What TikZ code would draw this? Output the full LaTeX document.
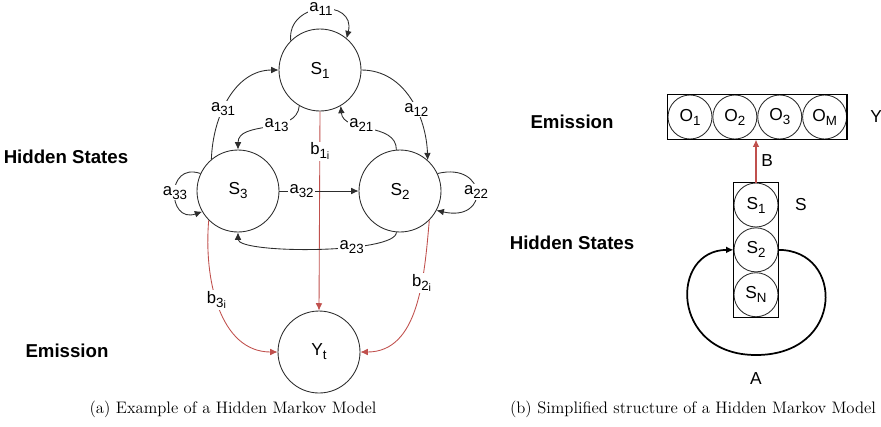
\documentclass[tikz,border=0pt]{standalone}
\usepackage{fontspec}
\setsansfont{Liberation Sans}
\usetikzlibrary{
    positioning,    % relative placement of the stacked cells
    arrows.meta     % Latex arrow tips
}
\definecolor{emitred}{RGB}{192, 80, 77}
\definecolor{linegray}{RGB}{45, 45, 45}
% letter with a lowered index, set in the sans font
\newcommand{\idx}[2]{#1\raisebox{-3pt}{\fontsize{10}{11}\selectfont #2}}
% index with a smaller second level (b_{1i})
\newcommand{\iidx}[3]{#1\raisebox{-3pt}{\fontsize{10}{11}\selectfont #2\raisebox{-0.5pt}{\fontsize{8}{9}\selectfont #3}}}

\begin{document}
\begin{tikzpicture}[
    x=0.75pt, y=0.75pt, % one unit per pixel
    node distance=0pt,
    >={Latex[length=5.5pt, width=5pt]},
    % Styles
    state/.style={ % big state circles of the full model
        circle,
        draw=linegray,
        line width=0.65pt,
        minimum size=61.5pt,
        inner sep=0pt,
        font=\sffamily\fontsize{13}{14}\selectfont
    },
    cell/.style={ % small circles stacked inside the boxes
        circle,
        draw=linegray,
        line width=0.65pt,
        minimum size=33pt,
        inner sep=0pt,
        font=\sffamily\fontsize{13}{14}\selectfont
    },
    trans_arrow/.style={->, line width=0.65pt, draw=linegray},
    emit_arrow/.style={->, line width=0.65pt, draw=emitred},
    prob_label/.style={ % edge labels cut the line
        fill=white,
        inner sep=1pt,
        font=\sffamily\fontsize{12.5}{14}\selectfont
    },
    side_text/.style={font=\sffamily\fontsize{13}{14}\selectfont},
    section_text/.style={font=\sffamily\bfseries\fontsize{14}{16}\selectfont},
    caption_text/.style={font=\fontsize{12.5}{15}\selectfont}
]
\useasboundingbox (0,0) rectangle (881,-426);

% --- (a) full model ---
\node[state] (S1) at (320,-70) {\idx{S}{1}};
\node[state] (S3) at (238,-191) {\idx{S}{3}};
\node[state] (S2) at (400,-191) {\idx{S}{2}};
\node[state] (Yt) at (319,-352) {\idx{Y}{t}};

\node[section_text] (hidden_a) at (66,-157) {Hidden States};
\node[section_text] (emission_a) at (67,-351) {Emission};

% emissions
\draw[emit_arrow] (S1.south) -- node[prob_label, pos=0.2] {\iidx{b}{1}{i}} (Yt.north);
\draw[emit_arrow] (S3.225) to[out=265, in=180] node[prob_label, pos=0.45] {\iidx{b}{3}{i}} (Yt.west);
\draw[emit_arrow] (S2.-45) to[out=-95, in=0] node[prob_label, pos=0.35] {\iidx{b}{2}{i}} (Yt.east);

% self loops
\draw[trans_arrow] (S1.135) .. controls +(-4,40) and +(10,40) .. node[prob_label] {\idx{a}{11}} (S1.50);
\draw[trans_arrow] (S2.25) .. controls +(50,12) and +(54,-12) .. node[prob_label] {\idx{a}{22}} (S2.-28);
\draw[trans_arrow] (S3.155) .. controls +(-35,12) and +(-35,-12) .. node[prob_label] {\idx{a}{33}} (S3.210);

% transitions between states
\draw[trans_arrow] (S3.130) to[out=88, in=180] node[prob_label, pos=0.4] {\idx{a}{31}} (S1.west);
\draw[trans_arrow] (S1.east) to[out=0, in=92] node[prob_label, pos=0.6] {\idx{a}{12}} (S2.48);
\draw[trans_arrow] (S1.240) to[out=265, in=90] node[prob_label, pos=0.4] {\idx{a}{13}} (S3.north);
\draw[trans_arrow] (S2.95) to[out=90, in=275] node[prob_label, pos=0.6] {\idx{a}{21}} (S1.-60);
\draw[trans_arrow] (S3.east) -- node[prob_label, pos=0.28] {\idx{a}{32}} (S2.west);
\draw[trans_arrow] (S2.265) to[out=-90, in=-90, looseness=0.35] node[prob_label, pos=0.35] {\idx{a}{23}} (S3.south);

\node[caption_text] (caption_a) at (233,-409) {(a) Example of a Hidden Markov Model};

% --- (b) simplified structure ---
\node[cell] (O1) at (690,-117) {\idx{O}{1}};
\node[cell, right=of O1] (O2) {\idx{O}{2}};
\node[cell, right=of O2] (O3) {\idx{O}{3}};
\node[cell, right=of O3] (OM) {\idx{O}{M}};
\draw[line width=1pt] (O1.west |- O1.north) rectangle (OM.east |- OM.south);
\node[side_text, right=14pt of OM] (Y_label) {Y};

\node[cell] (s1) at (756,-205) {\idx{S}{1}};
\node[cell, below=of s1] (s2) {\idx{S}{2}};
\node[cell, below=of s2] (sN) {\idx{S}{N}};
\draw[line width=1pt] (s1.west |- s1.north) rectangle (sN.east |- sN.south);
\node[side_text, right=9pt of s1] (S_label) {S};

\node[section_text] (emission_b) at (572,-122) {Emission};
\node[section_text] (hidden_b) at (572,-243) {Hidden States};

% emission matrix B
\coordinate (obox_bottom) at (s1.north |- O1.south);
\draw[->, draw=emitred, line width=1.4pt] (s1.north) -- node[side_text, right] (B_label) {B} (obox_bottom);

% transition matrix A
\coordinate (loop_bottom) at (756,-355);
\draw[->, line width=1.3pt] (s2.east) .. controls +(66,0) and +(89,0) .. (loop_bottom)
    .. controls +(-86,0) and +(-64,0) .. (s2.west);
\node[side_text, below=10pt of loop_bottom] (A_label) {A};

\node[caption_text] (caption_b) at (693,-409) {(b) Simplified structure of a Hidden Markov Model};

\end{tikzpicture}
\end{document}
